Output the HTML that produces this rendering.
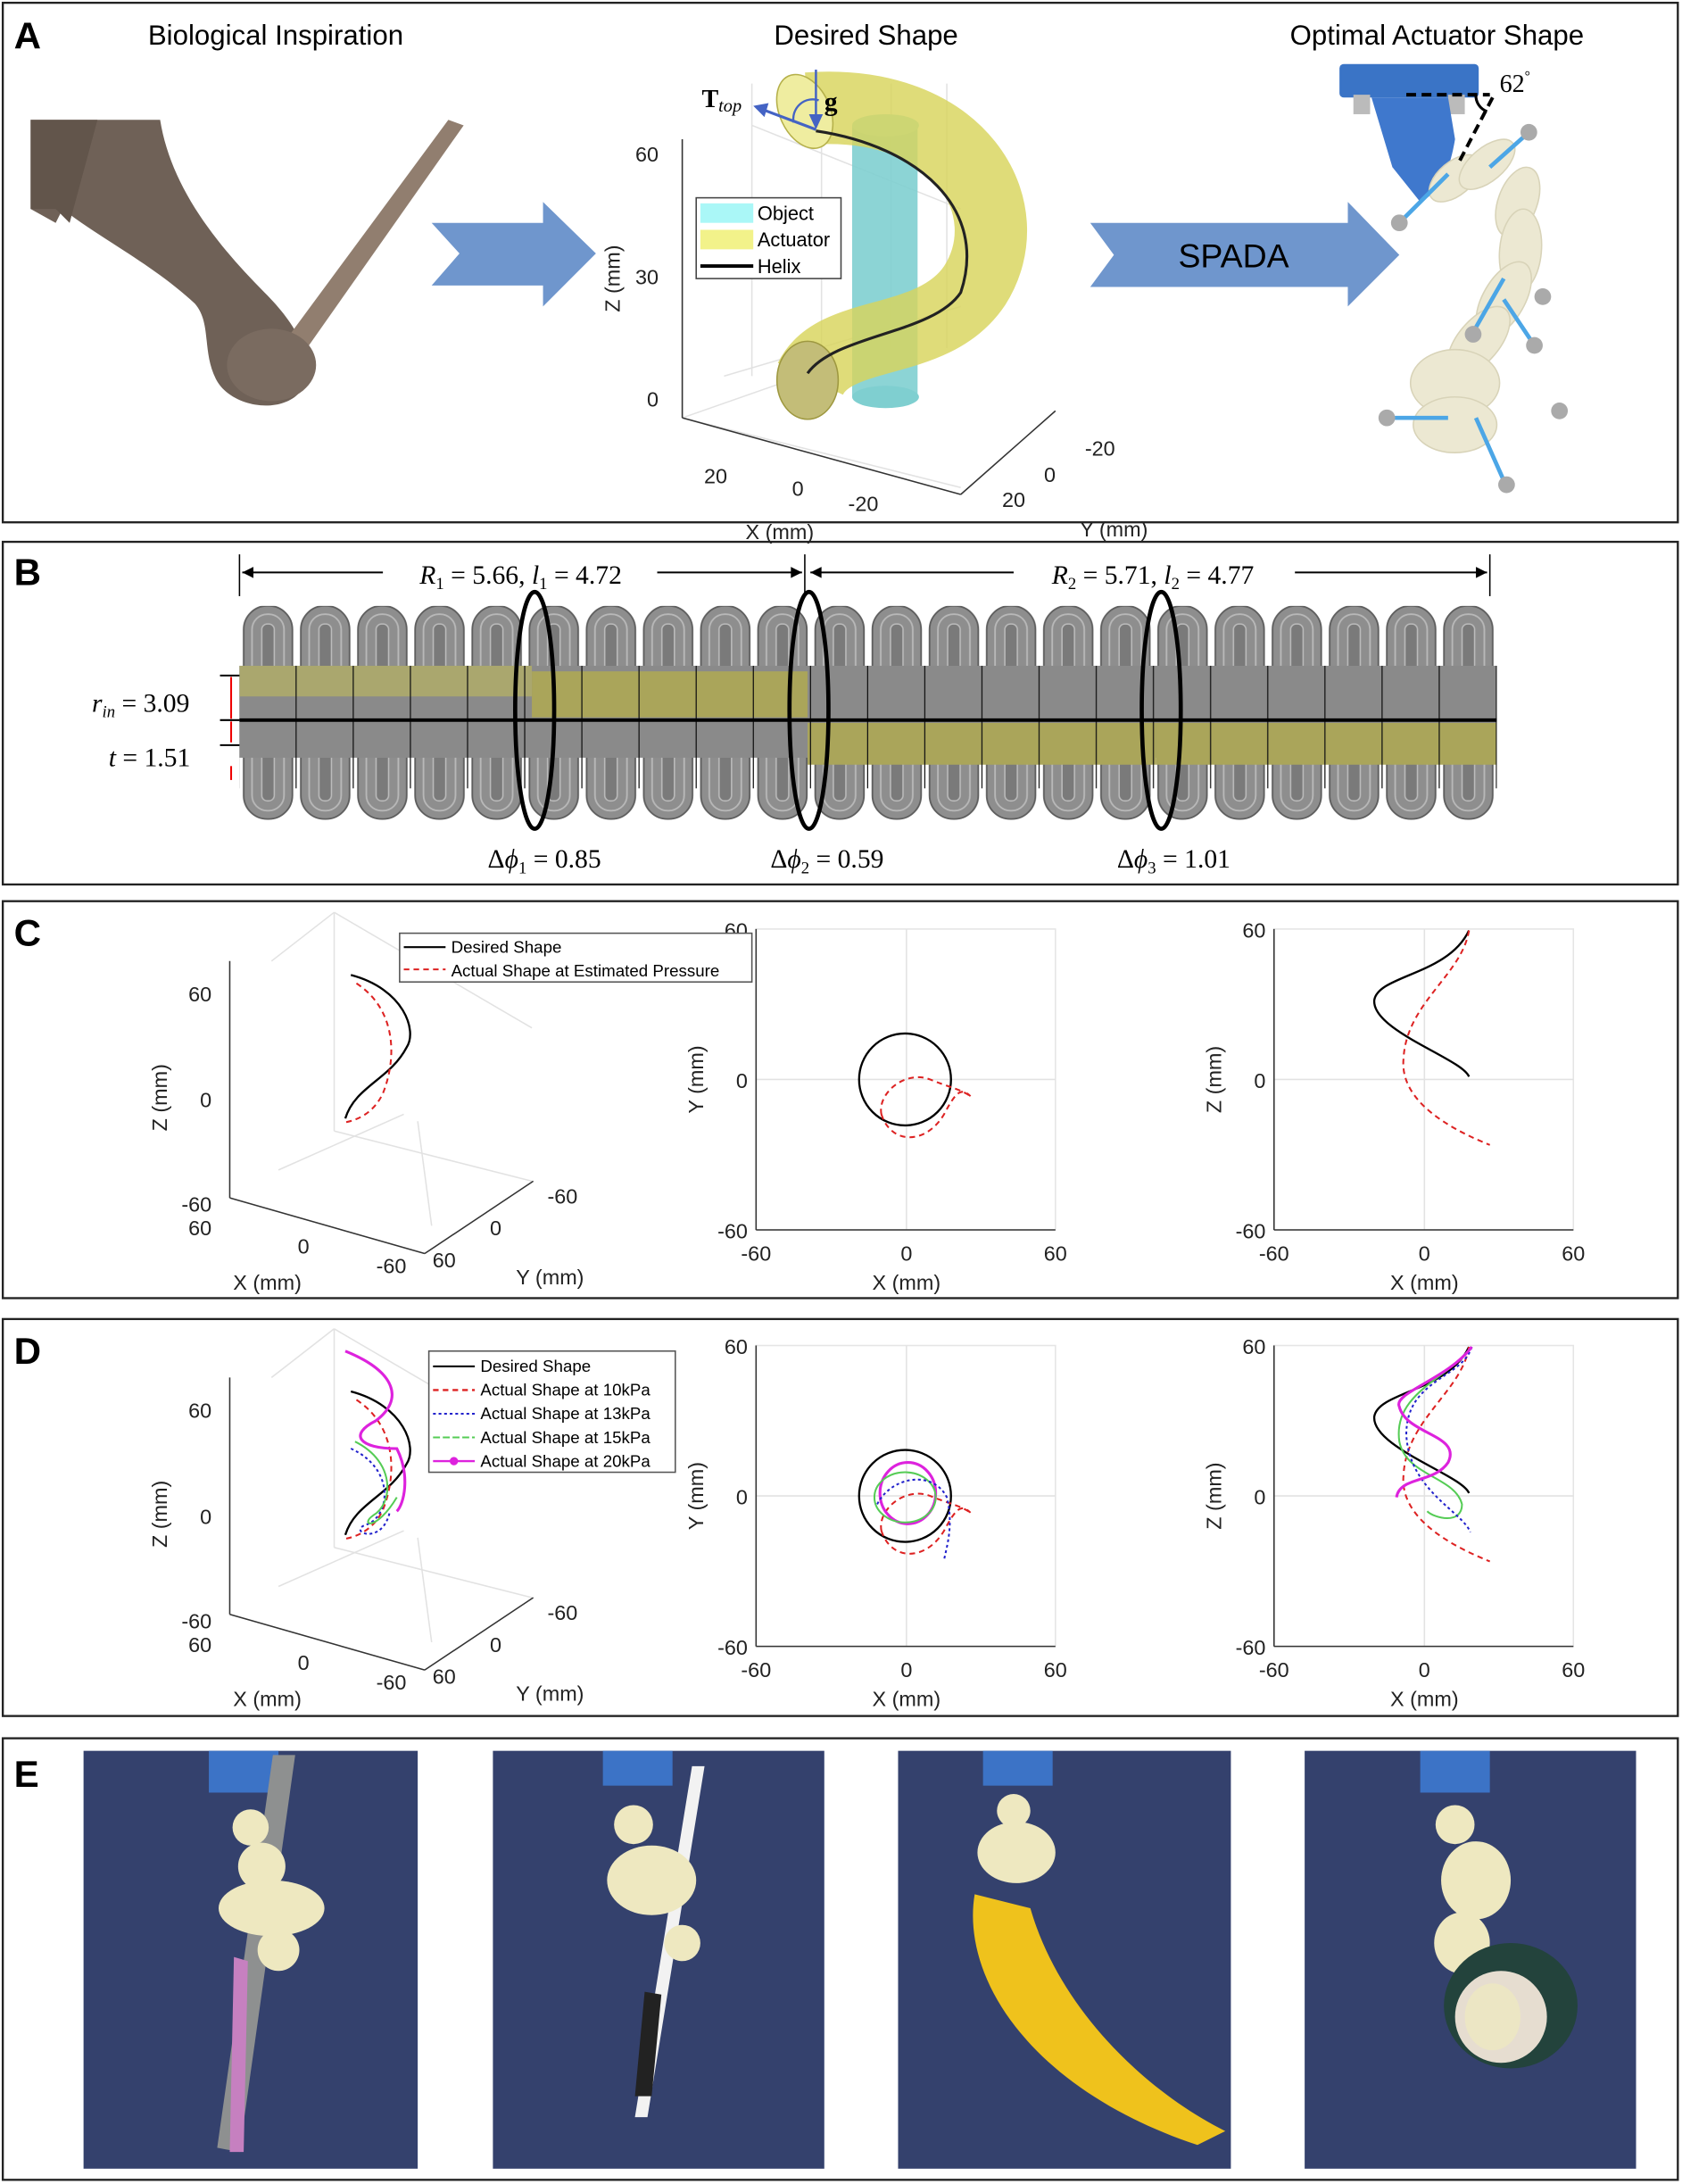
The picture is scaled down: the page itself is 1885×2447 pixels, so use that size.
<!DOCTYPE html>
<html><head><meta charset="utf-8"><style>
html,body{margin:0;padding:0;background:#fff}
svg{display:block}
text{font-family:"Liberation Sans",sans-serif}
.s{font-family:"Liberation Serif",serif}
.t{font-size:15px;fill:#222}
.ax{stroke:#333;stroke-width:1;fill:none}
.gr{stroke:#e2e2e2;stroke-width:1;fill:none}
</style></head><body>
<svg width="1885" height="2447" viewBox="0 0 1208 1568" preserveAspectRatio="none" xmlns="http://www.w3.org/2000/svg">
<defs>
<pattern id="ft" x="172" y="0" width="41.05" height="1568" patternUnits="userSpaceOnUse">
 <rect x="3" y="435" width="35" height="80" rx="17" fill="#8e8e8e" stroke="#5e5e5e" stroke-width="1.2"/>
 <rect x="9" y="441" width="23" height="70" rx="11" fill="none" stroke="#b8b8b8" stroke-width="1.2"/>
 <rect x="16" y="448" width="9" height="50" rx="4" fill="#7a7a7a" stroke="#bbb" stroke-width="1"/>
</pattern>
<pattern id="fb" x="172" y="0" width="41.05" height="1568" patternUnits="userSpaceOnUse">
 <rect x="3" y="520" width="35" height="68" rx="17" fill="#8e8e8e" stroke="#5e5e5e" stroke-width="1.2"/>
 <rect x="9" y="520" width="23" height="62" rx="11" fill="none" stroke="#b8b8b8" stroke-width="1.2"/>
 <rect x="16" y="530" width="9" height="45" rx="4" fill="#7a7a7a" stroke="#bbb" stroke-width="1"/>
</pattern>
<pattern id="vl" x="172" y="0" width="41.05" height="1568" patternUnits="userSpaceOnUse">
 <line x1="41" y1="0" x2="41" y2="1568" stroke="#111" stroke-width="1.5"/>
</pattern>
</defs>

<rect x="2" y="2" width="1203" height="373" fill="none" stroke="#222" stroke-width="1.5"/>
<rect x="2" y="389" width="1203" height="246" fill="none" stroke="#222" stroke-width="1.5"/>
<rect x="2" y="647" width="1203" height="285" fill="none" stroke="#222" stroke-width="1.5"/>
<rect x="2" y="947" width="1203" height="285" fill="none" stroke="#222" stroke-width="1.5"/>
<rect x="2" y="1248" width="1203" height="317" fill="none" stroke="#222" stroke-width="1.5"/>

<!-- ===== A ===== -->
<text x="10" y="35" font-size="27" font-weight="bold">A</text>
<text x="198" y="32" font-size="20" text-anchor="middle">Biological Inspiration</text>
<text x="622" y="32" font-size="20" text-anchor="middle">Desired Shape</text>
<text x="1032" y="32" font-size="20" text-anchor="middle">Optimal Actuator Shape</text>

<!-- elephant trunk -->
<path d="M22,86 L115,86 C122,130 150,170 190,210 C215,235 228,260 215,282 C200,298 165,292 155,272 C145,252 152,232 140,218 C110,190 70,170 45,150 L40,160 L22,150 Z" fill="#6f6157"/>
<path d="M22,86 L70,86 L50,160 L40,150 L22,150 Z" fill="#62554b"/>
<path d="M322,86 L333,90 L212,262 L198,254 Z" fill="#917e6f"/>
<ellipse cx="195" cy="262" rx="32" ry="26" fill="#7a6b60"/>

<path d="M310,160 L390,160 L390,145 L428,182 L390,220 L390,205 L310,205 L330,182 Z" fill="#6f96cd"/>
<path d="M783,160 L968,160 L968,145 L1005,183 L968,220 L968,206 L783,206 L800,183 Z" fill="#6f96cd"/>
<text x="886" y="192" font-size="24" text-anchor="middle">SPADA</text>

<!-- 3D plot A -->
<g>
<line class="gr" x1="490" y1="100" x2="490" y2="300"/>
<line class="gr" x1="540" y1="60" x2="540" y2="270"/>
<line class="gr" x1="590" y1="80" x2="590" y2="265"/>
<line class="gr" x1="640" y1="60" x2="640" y2="250"/>
<line class="gr" x1="680" y1="60" x2="680" y2="250"/>
<line class="gr" x1="490" y1="300" x2="690" y2="350"/>
<line class="gr" x1="520" y1="270" x2="690" y2="220"/>
<line class="gr" x1="490" y1="300" x2="590" y2="265"/>
<line class="gr" x1="540" y1="90" x2="690" y2="150"/>
<line class="ax" x1="490" y1="100" x2="490" y2="300"/>
<line class="ax" x1="490" y1="300" x2="690" y2="355"/>
<line class="ax" x1="690" y1="355" x2="758" y2="295"/>
<text x="473" y="116" class="t" text-anchor="end">60</text>
<text x="473" y="204" class="t" text-anchor="end">30</text>
<text x="473" y="292" class="t" text-anchor="end">0</text>
<text x="445" y="200" class="t" transform="rotate(-90 445 200)" text-anchor="middle">Z (mm)</text>
<text x="514" y="347" class="t" text-anchor="middle">20</text>
<text x="573" y="356" class="t" text-anchor="middle">0</text>
<text x="620" y="367" class="t" text-anchor="middle">-20</text>
<text x="560" y="387" class="t" text-anchor="middle">X (mm)</text>
<text x="790" y="327" class="t" text-anchor="middle">-20</text>
<text x="754" y="346" class="t" text-anchor="middle">0</text>
<text x="728" y="364" class="t" text-anchor="middle">20</text>
<text x="800" y="385" class="t" text-anchor="middle">Y (mm)</text>
<rect x="612" y="90" width="47" height="195" fill="#7fcfd0" opacity="0.9"/>
<ellipse cx="636" cy="285" rx="24" ry="8" fill="#7fcfd0"/>
<ellipse cx="636" cy="90" rx="24" ry="8" fill="#9adada"/>
<path d="M580,78 C690,70 735,150 700,205 C670,250 600,235 582,272" fill="none" stroke="#d8d45c" stroke-width="52" opacity="0.82"/>
<ellipse cx="578" cy="80" rx="18" ry="28" fill="#efeda0" stroke="#b5b04a" transform="rotate(-25 578 80)"/>
<ellipse cx="580" cy="273" rx="22" ry="28" fill="#c3bd78" stroke="#9e9840"/>
<path d="M586,94 C660,105 710,150 690,210 C670,240 600,240 580,268" fill="none" stroke="#222" stroke-width="2"/>
<rect x="500" y="142" width="104" height="58" fill="#fff" stroke="#444"/>
<rect x="503" y="146" width="38" height="14" fill="#aaf7f7"/>
<text x="544" y="158" font-size="14">Object</text>
<rect x="503" y="165" width="38" height="14" fill="#f2f28a"/>
<text x="544" y="177" font-size="14">Actuator</text>
<line x1="503" y1="191" x2="541" y2="191" stroke="#000" stroke-width="2.5"/>
<text x="544" y="196" font-size="14">Helix</text>
<line x1="586" y1="50" x2="586" y2="88" stroke="#4463c4" stroke-width="1.6"/>
<path d="M581,82 L586,93 L591,82 Z" fill="#4463c4"/>
<line x1="586" y1="93" x2="546" y2="78" stroke="#4463c4" stroke-width="2"/>
<path d="M541,76 L552,74 L549,84 Z" fill="#4463c4"/>
<path d="M570,88 A14,14 0 0 1 588,72" fill="none" stroke="#4463c4" stroke-width="1.5"/>
<text x="504" y="77" class="s" font-size="18" font-weight="bold">T<tspan font-size="13" font-style="italic" font-weight="normal" dy="3">top</tspan></text>
<text x="592" y="79" class="s" font-size="19" font-weight="bold">g</text>
</g>

<!-- actuator photo A -->
<rect x="962" y="46" width="100" height="24" rx="3" fill="#3a74c6"/>
<rect x="972" y="68" width="12" height="14" fill="#bbb"/><rect x="1040" y="68" width="12" height="14" fill="#bbb"/>
<path d="M985,70 L1040,70 L1045,100 C1040,130 1030,140 1020,145 L1000,120 Z" fill="#3f78cd"/>
<g fill="#ece8d2" stroke="#d8d3b8">
<ellipse cx="1045" cy="128" rx="22" ry="12" transform="rotate(-40 1045 128)"/>
<ellipse cx="1068" cy="118" rx="24" ry="12" transform="rotate(-40 1068 118)"/>
<ellipse cx="1090" cy="145" rx="26" ry="14" transform="rotate(-70 1090 145)"/>
<ellipse cx="1092" cy="180" rx="30" ry="15" transform="rotate(-85 1092 180)"/>
<ellipse cx="1080" cy="215" rx="30" ry="15" transform="rotate(-60 1080 215)"/>
<ellipse cx="1062" cy="245" rx="30" ry="15" transform="rotate(-50 1062 245)"/>
<ellipse cx="1045" cy="275" rx="32" ry="24"/>
<ellipse cx="1045" cy="305" rx="30" ry="20"/>
</g>
<g stroke="#4ca6e6" stroke-width="3">
<line x1="1040" y1="125" x2="1005" y2="160"/><line x1="1070" y1="120" x2="1098" y2="95"/>
<line x1="1080" y1="200" x2="1060" y2="235"/><line x1="1080" y1="215" x2="1100" y2="245"/>
<line x1="1060" y1="300" x2="1080" y2="345"/><line x1="1040" y1="300" x2="1000" y2="300"/>
</g>
<g fill="#aaa"><circle cx="1005" cy="160" r="6"/><circle cx="1098" cy="95" r="6"/><circle cx="1058" cy="240" r="6"/><circle cx="1102" cy="248" r="6"/><circle cx="1082" cy="348" r="6"/><circle cx="996" cy="300" r="6"/><circle cx="1120" cy="295" r="6"/><circle cx="1108" cy="213" r="6"/></g>
<line x1="1010" y1="68" x2="1070" y2="68" stroke="#000" stroke-width="2.5" stroke-dasharray="7,4"/>
<line x1="1072" y1="70" x2="1047" y2="118" stroke="#000" stroke-width="2.5" stroke-dasharray="7,4"/>
<path d="M1060,68 A12,12 0 0 0 1068,80" fill="none" stroke="#000" stroke-width="2"/>
<text x="1077" y="66" class="s" font-size="18">62<tspan font-size="10" dy="-8">°</tspan></text>

<!-- ===== B ===== -->
<text x="10" y="420" font-size="27" font-weight="bold">B</text>
<line x1="172" y1="398" x2="172" y2="428" stroke="#000"/>
<line x1="578" y1="398" x2="578" y2="428" stroke="#000"/>
<line x1="1070" y1="398" x2="1070" y2="428" stroke="#000"/>
<g stroke="#000" stroke-width="1.3">
<line x1="174" y1="411" x2="275" y2="411"/><line x1="472" y1="411" x2="576" y2="411"/>
<line x1="582" y1="411" x2="728" y2="411"/><line x1="930" y1="411" x2="1068" y2="411"/>
</g>
<path d="M174,411 l8,-4 v8z M576,411 l-8,-4 v8z M582,411 l8,-4 v8z M1068,411 l-8,-4 v8z" fill="#000"/>
<text x="374" y="419" class="s" font-size="19" text-anchor="middle"><tspan font-style="italic">R</tspan><tspan font-size="12" dy="4">1</tspan><tspan dy="-4"> = 5.66, </tspan><tspan font-style="italic">l</tspan><tspan font-size="12" dy="4">1</tspan><tspan dy="-4"> = 4.72</tspan></text>
<text x="828" y="419" class="s" font-size="19" text-anchor="middle"><tspan font-style="italic">R</tspan><tspan font-size="12" dy="4">2</tspan><tspan dy="-4"> = 5.71, </tspan><tspan font-style="italic">l</tspan><tspan font-size="12" dy="4">2</tspan><tspan dy="-4"> = 4.77</tspan></text>

<rect x="172" y="435" width="903" height="100" fill="url(#ft)"/>
<rect x="172" y="515" width="903" height="75" fill="url(#fb)"/>
<rect x="172" y="478" width="903" height="66" fill="#8a8a8a"/>
<rect x="172" y="478" width="210" height="22" fill="#b2ae66" opacity="0.8"/>
<rect x="382" y="482" width="198" height="33" fill="#aaa55a"/>
<rect x="580" y="519" width="250" height="30" fill="#aaa55a"/>
<rect x="830" y="519" width="245" height="30" fill="#aaa55a"/>
<rect x="172" y="478" width="903" height="88" fill="url(#vl)"/>
<line x1="172" y1="517" x2="1075" y2="517" stroke="#000" stroke-width="2.5"/>
<g fill="none" stroke="#000" stroke-width="3">
<ellipse cx="384" cy="510" rx="14" ry="85"/>
<ellipse cx="581" cy="510" rx="14" ry="85"/>
<ellipse cx="834" cy="510" rx="14" ry="85"/>
</g>
<g stroke="#000" stroke-width="1.3"><line x1="158" y1="485" x2="172" y2="485"/><line x1="158" y1="517" x2="172" y2="517"/><line x1="158" y1="535" x2="172" y2="535"/></g>
<g stroke="#e00" stroke-width="1.3"><line x1="166" y1="486" x2="166" y2="516"/><line x1="166" y1="518" x2="166" y2="533"/><line x1="166" y1="550" x2="166" y2="560"/></g>
<text x="66" y="511" class="s" font-size="19"><tspan font-style="italic">r</tspan><tspan font-size="12" font-style="italic" dy="4">in</tspan><tspan dy="-4"> = 3.09</tspan></text>
<text x="78" y="550" class="s" font-size="19"><tspan font-style="italic">t</tspan> = 1.51</text>
<text x="391" y="623" class="s" font-size="19" text-anchor="middle">Δ<tspan font-style="italic">ϕ</tspan><tspan font-size="12" dy="4">1</tspan><tspan dy="-4"> = 0.85</tspan></text>
<text x="594" y="623" class="s" font-size="19" text-anchor="middle">Δ<tspan font-style="italic">ϕ</tspan><tspan font-size="12" dy="4">2</tspan><tspan dy="-4"> = 0.59</tspan></text>
<text x="843" y="623" class="s" font-size="19" text-anchor="middle">Δ<tspan font-style="italic">ϕ</tspan><tspan font-size="12" dy="4">3</tspan><tspan dy="-4"> = 1.01</tspan></text>

<!-- ===== C ===== -->
<text x="10" y="679" font-size="27" font-weight="bold">C</text>
<g id="cplots">
<line class="gr" x1="240" y1="655" x2="240" y2="812"/>
<line class="gr" x1="240" y1="655" x2="382" y2="738"/>
<line class="gr" x1="240" y1="812" x2="382" y2="848"/>
<line class="gr" x1="200" y1="840" x2="290" y2="800"/>
<line class="gr" x1="195" y1="690" x2="240" y2="655"/>
<line class="gr" x1="300" y1="805" x2="310" y2="880"/>
<line class="ax" x1="165" y1="690" x2="165" y2="860"/>
<line class="ax" x1="165" y1="860" x2="305" y2="900"/>
<line class="ax" x1="305" y1="900" x2="383" y2="848"/>
<text x="152" y="719" class="t" text-anchor="end">60</text>
<text x="152" y="795" class="t" text-anchor="end">0</text>
<text x="152" y="870" class="t" text-anchor="end">-60</text>
<text x="152" y="887" class="t" text-anchor="end">60</text>
<text x="218" y="900" class="t" text-anchor="middle">0</text>
<text x="281" y="914" class="t" text-anchor="middle">-60</text>
<text x="192" y="926" class="t" text-anchor="middle">X (mm)</text>
<text x="404" y="864" class="t" text-anchor="middle">-60</text>
<text x="356" y="887" class="t" text-anchor="middle">0</text>
<text x="319" y="910" class="t" text-anchor="middle">60</text>
<text x="395" y="922" class="t" text-anchor="middle">Y (mm)</text>
<text x="120" y="788" class="t" transform="rotate(-90 120 788)" text-anchor="middle">Z (mm)</text>
<path d="M252,700 C290,710 300,740 292,752 C280,775 255,780 248,803" fill="none" stroke="#000" stroke-width="1.5"/>
<path d="M256,706 C285,725 285,760 275,785 C268,800 255,805 246,806" fill="none" stroke="#d22" stroke-width="1.3" stroke-dasharray="4,3"/>
<rect x="543" y="667" width="215" height="216" fill="none" stroke="#e5e5e5"/>
<line class="gr" x1="651" y1="667" x2="651" y2="883"/><line class="gr" x1="543" y1="775" x2="758" y2="775"/>
<line class="ax" x1="543" y1="883" x2="758" y2="883"/><line class="ax" x1="543" y1="667" x2="543" y2="883"/>
<text x="537" y="673" class="t" text-anchor="end">60</text>
<text x="537" y="781" class="t" text-anchor="end">0</text>
<text x="537" y="889" class="t" text-anchor="end">-60</text>
<text x="543" y="905" class="t" text-anchor="middle">-60</text>
<text x="651" y="905" class="t" text-anchor="middle">0</text>
<text x="758" y="905" class="t" text-anchor="middle">60</text>
<text x="651" y="926" class="t" text-anchor="middle">X (mm)</text>
<text x="505" y="775" class="t" transform="rotate(-90 505 775)" text-anchor="middle">Y (mm)</text>
<ellipse cx="650" cy="775" rx="33" ry="33" fill="none" stroke="#000" stroke-width="1.5"/>
<path d="M633,800 C640,822 665,822 678,800 C686,785 690,780 697,787 M633,800 C630,785 650,768 668,775 C680,780 690,782 697,787" fill="none" stroke="#d22" stroke-width="1.3" stroke-dasharray="4,3"/>
<rect x="915" y="667" width="215" height="216" fill="none" stroke="#e5e5e5"/>
<line class="gr" x1="1023" y1="667" x2="1023" y2="883"/><line class="gr" x1="915" y1="775" x2="1130" y2="775"/>
<line class="ax" x1="915" y1="883" x2="1130" y2="883"/><line class="ax" x1="915" y1="667" x2="915" y2="883"/>
<text x="909" y="673" class="t" text-anchor="end">60</text>
<text x="909" y="781" class="t" text-anchor="end">0</text>
<text x="909" y="889" class="t" text-anchor="end">-60</text>
<text x="915" y="905" class="t" text-anchor="middle">-60</text>
<text x="1023" y="905" class="t" text-anchor="middle">0</text>
<text x="1130" y="905" class="t" text-anchor="middle">60</text>
<text x="1023" y="926" class="t" text-anchor="middle">X (mm)</text>
<text x="877" y="775" class="t" transform="rotate(-90 877 775)" text-anchor="middle">Z (mm)</text>
<path d="M1055,668 C1040,700 990,700 987,718 C985,740 1050,760 1055,773" fill="none" stroke="#000" stroke-width="1.5"/>
<path d="M1055,668 C1050,700 1010,720 1008,760 C1005,790 1040,810 1070,822" fill="none" stroke="#d22" stroke-width="1.3" stroke-dasharray="4,3"/>
</g>
<rect x="287" y="670" width="253" height="35" fill="#fff" stroke="#555"/>
<line x1="290" y1="680" x2="320" y2="680" stroke="#000" stroke-width="1.3"/>
<text x="324" y="684" font-size="12">Desired Shape</text>
<line x1="290" y1="696" x2="320" y2="696" stroke="#d22" stroke-width="1.3" stroke-dasharray="4,3"/>
<text x="324" y="701" font-size="12">Actual Shape at Estimated Pressure</text>

<!-- ===== D ===== -->
<text x="10" y="979" font-size="27" font-weight="bold">D</text>
<use href="#cplots" transform="translate(0,299)"/>
<g fill="none" stroke-width="1.3">
<path d="M252,1040 C285,1055 280,1090 262,1095 C250,1100 275,1110 280,1085" stroke="#22c" stroke-dasharray="2,2"/>
<path d="M255,1035 C285,1050 282,1080 268,1088 C258,1095 270,1100 285,1075" stroke="#5c5"/>
<path d="M248,970 C285,985 290,1005 270,1020 C250,1030 258,1040 285,1040 C295,1060 290,1080 285,1085" stroke="#d2d" stroke-width="2"/>
<ellipse cx="652" cy="1072" rx="20" ry="22" stroke="#d2d" stroke-width="2"/>
<ellipse cx="650" cy="1075" rx="22" ry="18" stroke="#5c5"/>
<path d="M630,1080 C640,1060 670,1055 680,1075 C685,1095 680,1110 678,1120" stroke="#22c" stroke-dasharray="2,2"/>
<path d="M1057,967 C1040,990 1000,1000 1005,1035 C1010,1060 1045,1060 1050,1080 C1050,1095 1030,1090 1025,1085" stroke="#5c5"/>
<path d="M1057,967 C1050,990 1010,990 1010,1030 C1012,1070 1050,1085 1056,1100" stroke="#22c" stroke-dasharray="2,2"/>
<path d="M1057,967 C1040,990 1000,1000 1005,1010 C1010,1030 1050,1030 1040,1050 C1030,1065 1005,1060 1003,1075" stroke="#d2d" stroke-width="2"/>
</g>
<rect x="308" y="970" width="177" height="87" fill="#fff" stroke="#555"/>
<g font-size="12">
<line x1="311" y1="981" x2="341" y2="981" stroke="#000" stroke-width="1.3"/><text x="345" y="985">Desired Shape</text>
<line x1="311" y1="998" x2="341" y2="998" stroke="#d22" stroke-width="1.5" stroke-dasharray="4,3"/><text x="345" y="1002">Actual Shape at 10kPa</text>
<line x1="311" y1="1015" x2="341" y2="1015" stroke="#22c" stroke-width="1.3" stroke-dasharray="2,2"/><text x="345" y="1019">Actual Shape at 13kPa</text>
<line x1="311" y1="1032" x2="341" y2="1032" stroke="#5c5" stroke-width="1.3" stroke-dasharray="5,2"/><text x="345" y="1036">Actual Shape at 15kPa</text>
<line x1="311" y1="1049" x2="341" y2="1049" stroke="#d2d" stroke-width="1.5"/><circle cx="326" cy="1049" r="3" fill="#d2d"/><text x="345" y="1053">Actual Shape at 20kPa</text>
</g>

<!-- ===== E ===== -->
<text x="10" y="1283" font-size="27" font-weight="bold">E</text>
<g>
<rect x="60" y="1257" width="240" height="300" fill="#34416d"/>
<rect x="354" y="1257" width="238" height="300" fill="#34416d"/>
<rect x="645" y="1257" width="239" height="300" fill="#34416d"/>
<rect x="937" y="1257" width="238" height="300" fill="#34416d"/>
<g fill="#3c73c6"><rect x="150" y="1257" width="50" height="30"/><rect x="433" y="1257" width="50" height="25"/><rect x="706" y="1257" width="50" height="25"/><rect x="1020" y="1257" width="50" height="30"/></g>
<path d="M196,1260 L212,1260 L172,1545 L156,1542 Z" fill="#8e9090"/>
<path d="M168,1405 L178,1408 L175,1545 L165,1545 Z" fill="#c680c0"/>
<g fill="#eee8c0"><circle cx="180" cy="1312" r="13"/><circle cx="188" cy="1340" r="17"/><ellipse cx="195" cy="1370" rx="38" ry="20"/><circle cx="200" cy="1400" r="15"/></g>
<path d="M497,1268 L506,1268 L465,1520 L456,1520 Z" fill="#f2f2f2"/>
<path d="M463,1430 L475,1432 L468,1505 L456,1505 Z" fill="#222"/>
<g fill="#eee8c0"><circle cx="455" cy="1310" r="14"/><ellipse cx="468" cy="1350" rx="32" ry="25"/><circle cx="490" cy="1395" r="13"/></g>
<path d="M700,1360 C690,1420 740,1500 860,1540 L880,1530 C820,1500 760,1440 740,1370 Z" fill="#efc21c"/>
<g fill="#eee8c0"><ellipse cx="730" cy="1330" rx="28" ry="22"/><circle cx="728" cy="1300" r="12"/></g>
<g fill="#eee8c0"><circle cx="1045" cy="1310" r="14"/><ellipse cx="1060" cy="1350" rx="25" ry="28"/><ellipse cx="1050" cy="1395" rx="20" ry="22"/></g>
<ellipse cx="1085" cy="1440" rx="48" ry="45" fill="#23433c"/>
<ellipse cx="1078" cy="1448" rx="33" ry="33" fill="#e6ddd0"/>
<ellipse cx="1072" cy="1448" rx="20" ry="24" fill="#ece6c4"/>
</g>
</svg>
</body></html>
